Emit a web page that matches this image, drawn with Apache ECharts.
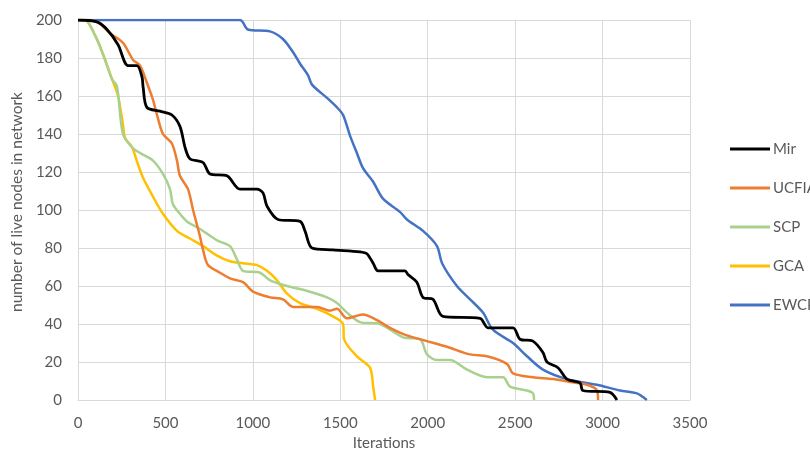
<!DOCTYPE html>
<html>
<head>
<meta charset="utf-8">
<script src="https://cdn.jsdelivr.net/npm/echarts@6/dist/echarts.min.js"></script>
<style>html,body{margin:0;padding:0;background:#fff;overflow:hidden}#c{width:810px;height:450px}</style>
</head>
<body>
<div id="c"></div>
<script>
const seriesNames = ['Mir', 'UCFIA', 'SCP', 'GCA', 'EWCP'];
const xTicks = [0, 500, 1000, 1500, 2000, 2500, 3000, 3500];
const yTicks = [0, 20, 40, 60, 80, 100, 120, 140, 160, 180, 200];

const mirData = [[0,200],[108,199],[166,195],[229,187],[286,176],[337,176],[366,170],[372,165],[394,154],[469,152],[537,150],[583,144],[612,133],[640,127],[715,125],[755,119],[852,118],[926,111],[1023,111],[1058,109],[1081,102],[1144,95],[1270,94],[1298,89],[1338,80],[1458,79],[1613,78],[1652,77],[1688,72],[1716,68],[1870,68],[1887,66],[1938,62],[1973,54],[2030,53],[2087,44],[2299,43],[2345,38],[2488,38],[2528,32],[2602,31],[2659,25],[2682,20],[2745,17],[2796,11],[2871,9],[2888,5],[3042,4],[3082,0]];
const ucfiaData = [[0,200],[108,199],[183,193],[257,188],[315,179],[355,176],[394,167],[429,158],[452,150],[486,140],[537,135],[566,126],[583,118],[629,111],[658,100],[698,86],[715,79],[743,71],[812,67],[869,64],[944,62],[1001,57],[1098,54],[1172,53],[1230,49],[1367,49],[1441,47],[1481,48],[1538,43],[1630,45],[1710,42],[1784,38],[1881,34],[1996,31],[2110,28],[2242,24],[2339,23],[2453,19],[2488,14],[2602,12],[2716,11],[2814,9.5],[2911,8],[2968,5],[2974,0]];
const scpData = [[0,200],[40,200],[97,192],[143,182],[194,169],[223,165],[257,140],[309,133],[355,130],[429,126],[486,119],[526,111],[543,103],[583,98],[623,94],[698,90],[795,84],[869,81],[909,74],[944,68],[1041,67],[1098,63],[1195,60],[1287,58],[1424,54],[1481,51],[1538,46],[1613,41],[1727,40],[1859,33],[1956,32],[1996,24],[2053,21],[2127,21],[2225,16],[2339,12],[2431,12],[2471,7],[2568,5],[2602,3.5],[2608,0]];
const gcaData = [[0,200],[40,200],[97,192],[143,182],[194,169],[229,160],[257,145],[269,138],[309,133],[343,124],[372,117],[429,107],[486,98],[566,89],[640,85],[715,81],[795,76],[869,73],[944,72],[1023,71],[1081,68],[1138,63],[1195,56],[1270,51],[1367,48],[1458,44],[1516,40],[1522,32],[1595,23],[1670,17],[1688,7],[1699,0]];
const ewcpData = [[0,200],[926,200],[972,195],[1098,194],[1172,190],[1230,183],[1270,177],[1315,171],[1338,166],[1424,159],[1481,154],[1516,150],[1556,139],[1595,130],[1630,122],[1687,115],[1744,106],[1841,99],[1881,95],[1973,89],[2053,81],[2082,72],[2167,60],[2242,53],[2316,46],[2373,37],[2488,30],[2568,23],[2659,16],[2796,11],[2968,8],[3100,5],[3196,3.5],[3253,0]];

const allData = [mirData, ucfiaData, scpData, gcaData, ewcpData];
const colors = ['#000000', '#ED7D31', '#A9D18E', '#FFC000', '#4472C4'];
const widths = [2.8, 2.5, 2.5, 2.5, 2.5];

const chart = echarts.init(document.getElementById('c'));
const font = 'Lato, "Open Sans", sans-serif';
chart.setOption({
  animation: false,
  backgroundColor: '#ffffff',
  textStyle: { fontFamily: font },
  grid: { left: 78, right: 120, top: 20, bottom: 50, containLabel: false, outerBoundsMode: 'none' },
  legend: {
    orient: 'vertical',
    left: 725,
    top: 135,
    itemWidth: 40,
    itemHeight: 3,
    itemGap: 21,
    icon: 'rect',
    data: seriesNames,
    textStyle: { fontSize: 15, color: '#595959', fontFamily: font, padding: [0, 0, 0, -2], lineHeight: 18 }
  },
  xAxis: {
    type: 'value',
    min: xTicks[0], max: xTicks[xTicks.length - 1], interval: 500,
    name: 'Iterations', nameLocation: 'middle', nameGap: 32,
    nameTextStyle: { fontSize: 15, color: '#595959', fontFamily: font },
    axisLine: { show: true, lineStyle: { color: '#d9d9d9', width: 1 } },
    axisTick: { show: false },
    axisLabel: { fontSize: 15, color: '#595959', margin: 16, fontFamily: font, formatter: v => String(v) },
    splitLine: { show: true, lineStyle: { color: '#d9d9d9', width: 1 } }
  },
  yAxis: {
    type: 'value',
    min: yTicks[0], max: yTicks[yTicks.length - 1], interval: 20,
    name: 'number of live nodes in network', nameLocation: 'middle', nameGap: 50, nameRotate: 90,
    nameTextStyle: { fontSize: 15.5, color: '#595959', fontFamily: font, padding: [0, 0, 0, 16] },
    axisLine: { show: false },
    axisTick: { show: false },
    axisLabel: { fontSize: 15, color: '#595959', margin: 16, fontFamily: font },
    splitLine: { show: true, lineStyle: { color: '#d9d9d9', width: 1 } }
  },
  series: seriesNames.map((n, i) => ({
    name: n,
    type: 'line',
    data: allData[i],
    showSymbol: false,
    symbol: 'none',
    smooth: 0.3,
    color: colors[i],
    lineStyle: { color: colors[i], width: widths[i] },
    z: 10 - i
  }))
});
</script>
</body>
</html>
